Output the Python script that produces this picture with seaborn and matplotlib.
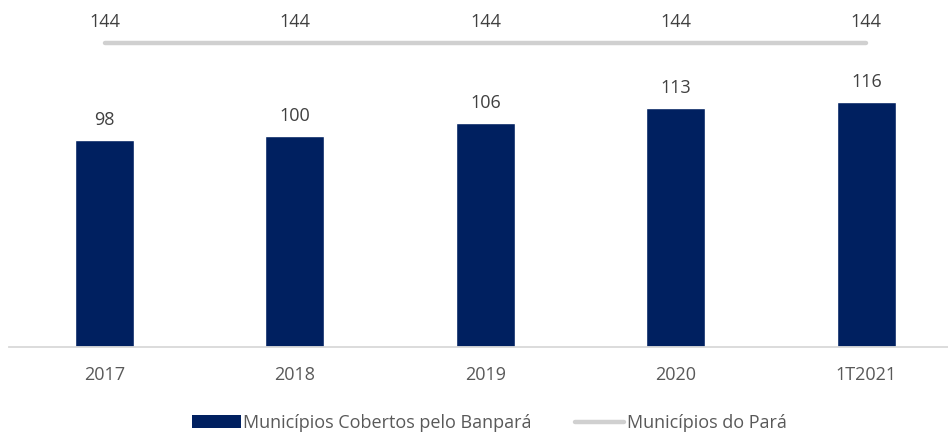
import matplotlib
matplotlib.use("Agg")
import matplotlib.pyplot as plt
import seaborn as sns
from matplotlib.patches import Patch
from matplotlib.lines import Line2D

# Data
periods = ["2017", "2018", "2019", "2020", "1T2021"]
covered = [98, 100, 106, 113, 116]
total_para = [144, 144, 144, 144, 144]

bar_color = "#002060"
line_color = "#D0D0D0"
text_color = "#404040"

sns.set_theme(style="white")
plt.rcParams["font.family"] = ["Open Sans", "DejaVu Sans"]

fig = plt.figure(figsize=(9.48, 4.32), dpi=100)
left = 9.3 / 948
ax = fig.add_axes([left, 85 / 432, 1 - left, 338 / 432])

# bars: municipalities covered
sns.barplot(x=periods, y=covered, color=bar_color, width=0.31, ax=ax,
            saturation=1)
ax.bar_label(ax.containers[0], padding=8, fontsize=13, color=text_color)

# line: all municipalities of the state
sns.pointplot(x=periods, y=total_para, color=line_color, markers="",
              linestyles="-", linewidth=3.2, solid_capstyle="round", ax=ax)
for i, v in enumerate(total_para):
    ax.annotate(str(v), (i, v), xytext=(0, 15), textcoords="offset points",
                ha="center", va="center", fontsize=13, color=text_color)

ax.set_ylim(0, 160)
ax.set_xlim(-0.5, -0.5 + (948 - 9.3) / 190.45)
ax.set_yticks([])
ax.set_ylabel("")
sns.despine(ax=ax, left=True, top=True, right=True)
ax.spines["bottom"].set_color("#D9D9D9")
ax.spines["bottom"].set_linewidth(1.3)
ax.tick_params(axis="x", length=0, pad=14, labelsize=13, labelcolor="#595959")

handles = [Patch(facecolor=bar_color, edgecolor="none"),
           Line2D([0], [0], color=line_color, lw=3.2, solid_capstyle="round")]
labels = ["Municípios Cobertos pelo Banpará", "Municípios do Pará"]
leg = fig.legend(handles, labels, loc="center", bbox_to_anchor=(0.516, 1 - 423 / 432),
                 ncol=2, frameon=False, fontsize=13, handlelength=2.7,
                 handleheight=0.75, handletextpad=0.15, columnspacing=2.4)
for t in leg.get_texts():
    t.set_color("#595959")

fig.savefig("out.png", dpi=100)
